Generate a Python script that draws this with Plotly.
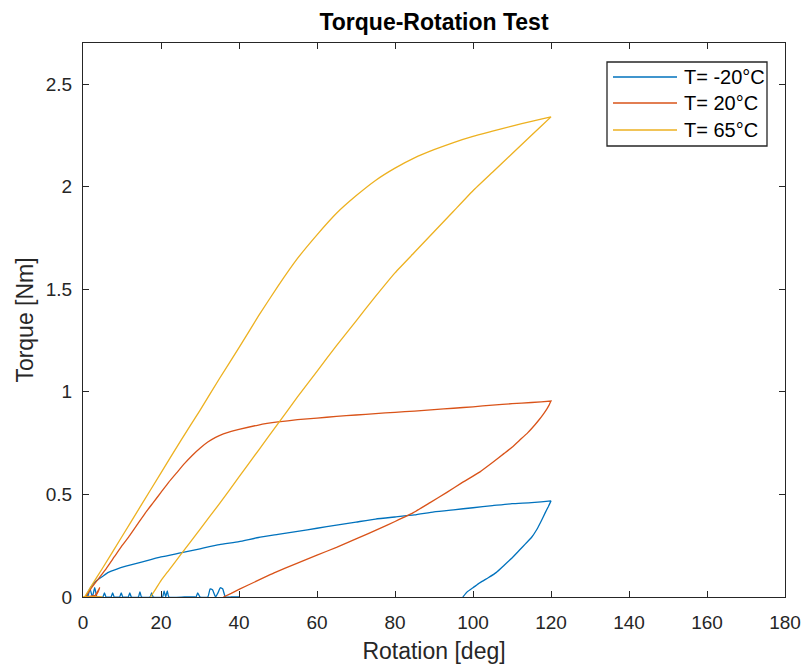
import plotly.graph_objects as go

# ---------------- data ----------------
series_names = ["T= -20°C", "T= 20°C", "T= 65°C"]
series_colors = ["#0072BD", "#D95319", "#EDB120"]

# T = -20 °C
blue_jit_x = [40.0, 38.0, 36.5, 35.8, 35.2, 34.6, 34.0, 33.2, 32.6, 32.0, 30.0, 29.4,
              29.0, 28.6, 26.0, 22.0, 21.6, 21.2, 20.8, 20.4, 18.0, 17.6, 17.2, 15.0,
              14.6, 14.2, 12.4, 12.0, 11.6, 10.2, 9.8, 9.4, 8.0, 7.6, 7.2, 5.9,
              5.5, 5.1, 3.6, 3.0, 2.4, 1.8, 1.2, 0.8]
blue_jit_y = [0.0, 0.0, 0.0, 0.04, 0.045, 0.02, 0.0, 0.035, 0.04, 0.0, 0.0, 0.02,
              0.0, 0.0, 0.0, 0.0, 0.03, 0.0, 0.03, 0.0, 0.0, 0.02, 0.0, 0.0,
              0.025, 0.0, 0.0, 0.02, 0.0, 0.0, 0.02, 0.0, 0.0, 0.02, 0.0, 0.0,
              0.02, 0.0, 0.0, 0.045, 0.0, 0.04, 0.0, 0.0]
blue_load_x = [0.8, 1.5, 2.3, 3.5, 5, 6.5, 8.5, 11, 15, 20, 25, 30, 35, 40, 45, 50,
               55, 60, 65, 70, 75, 80, 85, 90, 95, 100, 105, 110, 115, 120]
blue_load_y = [0.0, 0.03, 0.055, 0.08, 0.10, 0.12, 0.135, 0.15, 0.17, 0.195, 0.215,
               0.235, 0.255, 0.27, 0.29, 0.305, 0.32, 0.335, 0.35, 0.365, 0.38, 0.39,
               0.40, 0.415, 0.425, 0.435, 0.445, 0.455, 0.46, 0.468]
blue_unload_x = [120, 119.3, 118.5, 117.5, 116.4, 115, 113.5, 112, 110, 108, 106, 104,
                 101.8, 100, 98.5, 97.4]
blue_unload_y = [0.468, 0.44, 0.41, 0.37, 0.33, 0.29, 0.26, 0.23, 0.19, 0.155, 0.12,
                 0.095, 0.07, 0.045, 0.025, 0.0]

# T = 20 °C
red_jit_x = [4.5, 0.2, 2.8, 4.3, 3.4, 0.6]
red_jit_y = [0.0, 0.0, 0.0, 0.045, 0.01, 0.0]
red_load_x = [0.6, 2, 4, 6, 8, 10, 12, 14, 16, 18, 20, 22, 24, 26, 28, 30, 32, 34, 36,
              38, 40, 45, 50, 55, 60, 65, 70, 75, 80, 85, 90, 95, 100, 105, 110, 115, 120]
red_load_y = [0.0, 0.04, 0.09, 0.14, 0.195, 0.25, 0.30, 0.355, 0.41, 0.46, 0.51, 0.56,
              0.605, 0.65, 0.69, 0.725, 0.755, 0.778, 0.795, 0.807, 0.817, 0.838, 0.853,
              0.864, 0.872, 0.88, 0.887, 0.894, 0.90, 0.906, 0.913, 0.92, 0.927, 0.935,
              0.942, 0.948, 0.955]
red_unload_x = [120, 119.5, 119, 118, 117, 116, 114, 112, 110, 108, 105, 101.8, 97,
                93.3, 89, 84.6, 80, 76, 70, 65, 60, 55, 49, 45, 40, 38, 36]
red_unload_y = [0.955, 0.935, 0.918, 0.89, 0.865, 0.842, 0.80, 0.765, 0.73, 0.70,
                0.655, 0.61, 0.555, 0.51, 0.46, 0.41, 0.368, 0.333, 0.283, 0.242, 0.204,
                0.165, 0.118, 0.082, 0.037, 0.018, 0.0]

# T = 65 °C
yel_jit_x = [5.0, 0.0, 0.4]
yel_jit_y = [0.0, 0.0, 0.0]
yel_load_x = [0.4, 2, 5, 10, 15, 20, 25, 30, 35, 40, 45, 50, 55, 60, 65, 70, 75, 80,
              85, 90, 95, 100, 105, 110, 115, 120]
yel_load_y = [0.0, 0.05, 0.14, 0.295, 0.45, 0.605, 0.76, 0.91, 1.065, 1.215, 1.37,
              1.515, 1.65, 1.765, 1.87, 1.955, 2.03, 2.09, 2.14, 2.18, 2.215, 2.245,
              2.27, 2.295, 2.318, 2.34]
yel_unload_x = [120, 115, 110, 105, 100, 95, 90, 85, 80, 75, 70, 65, 60, 55, 50, 45,
                40, 35, 30, 25, 22, 20, 18.5, 17.3]
yel_unload_y = [2.34, 2.25, 2.16, 2.07, 1.98, 1.88, 1.78, 1.68, 1.58, 1.465, 1.345,
                1.225, 1.10, 0.975, 0.845, 0.715, 0.585, 0.455, 0.33, 0.205, 0.13,
                0.08, 0.035, 0.0]

x_ticks = [0, 20, 40, 60, 80, 100, 120, 140, 160, 180]
y_ticks = [0, 0.5, 1, 1.5, 2, 2.5]

# ---------------- figure ----------------
FONT = "Liberation Sans, Arial, Helvetica, sans-serif"
AX = "#262626"

series = [
    (blue_jit_x + blue_load_x + blue_unload_x, blue_jit_y + blue_load_y + blue_unload_y),
    (red_jit_x + red_load_x + red_unload_x, red_jit_y + red_load_y + red_unload_y),
    (yel_jit_x + yel_load_x + yel_unload_x, yel_jit_y + yel_load_y + yel_unload_y),
]

fig = go.Figure()
for (xs, ys), name, col in zip(series, series_names, series_colors):
    fig.add_trace(go.Scatter(x=xs, y=ys, mode="lines", name=name,
                             line=dict(color=col, width=1.3, shape="spline", smoothing=0.4),
                             showlegend=False))

axis_common = dict(showline=True, linecolor=AX, linewidth=1.3, mirror="allticks",
                   ticks="inside", ticklen=6, tickwidth=1.3, tickcolor=AX,
                   showgrid=False, zeroline=False, automargin=False,
                   tickfont=dict(family=FONT, size=19, color=AX))

fig.update_xaxes(range=[0, 180], tickvals=x_ticks, ticklabelstandoff=8,
                 title=dict(text="Rotation [deg]", font=dict(family=FONT, size=23, color=AX),
                            standoff=10),
                 **axis_common)
fig.update_yaxes(range=[0, 2.7], tickvals=y_ticks, ticklabelstandoff=6,
                 title=dict(text="Torque [Nm]", font=dict(family=FONT, size=23, color=AX),
                            standoff=5),
                 **axis_common)

# legend drawn as box + sample lines + text (MATLAB style)
def px_x(p):
    return (p - 83) / 702.0

def px_y(p):
    return (597 - p) / 554.0

fig.add_shape(type="rect", xref="paper", yref="paper",
              x0=px_x(607), x1=px_x(767), y0=px_y(146), y1=px_y(62),
              line=dict(color=AX, width=1.3), fillcolor="white", layer="above")
row_px = [77, 103, 130]
for name, col, ry in zip(series_names, series_colors, row_px):
    fig.add_shape(type="line", xref="paper", yref="paper",
                  x0=px_x(613), x1=px_x(677), y0=px_y(ry), y1=px_y(ry),
                  line=dict(color=col, width=1.3), layer="above")
    fig.add_annotation(xref="paper", yref="paper", x=px_x(682), y=px_y(ry),
                       text=name, showarrow=False, xanchor="left", yanchor="middle",
                       font=dict(family=FONT, size=20, color="#000000"))

fig.update_layout(
    width=805, height=668,
    margin=dict(l=83, r=20, t=43, b=71),
    plot_bgcolor="white", paper_bgcolor="white",
    showlegend=False,
    title=dict(text="<b>Torque-Rotation Test</b>", x=434 / 805.0, xanchor="center",
               y=1 - 22 / 668.0, yanchor="middle", yref="container",
               font=dict(family=FONT, size=23, color="#000000")),
)

fig.write_html("out.html",
               config={"displayModeBar": False},
               post_script="document.body.style.margin='0';document.body.style.overflow='hidden';")
